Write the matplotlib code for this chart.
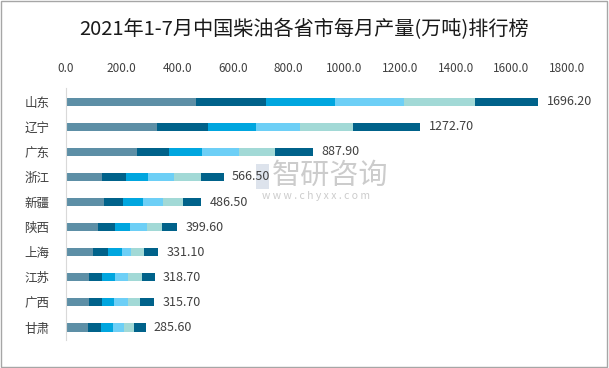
import matplotlib
matplotlib.use("Agg")
import matplotlib.pyplot as plt
from matplotlib.patches import Rectangle
import numpy as np

plt.rcParams['font.family'] = ['Noto Sans CJK SC', 'DejaVu Sans']

provinces = ["山东", "辽宁", "广东", "浙江", "新疆", "陕西", "上海", "江苏", "广西", "甘肃"]
series_names = ["1-2月", "3月", "4月", "5月", "6月", "7月"]
m12 = [467.0, 326.9, 254.9, 128.9, 137.4, 115.7, 97.6, 83.1, 83.1, 79.5]
m3 = [249.9, 184.3, 114.8, 88.0, 68.7, 61.5, 54.2, 47.0, 47.0, 47.0]
m4 = [248.6, 172.9, 119.9, 75.9, 72.3, 54.2, 50.6, 47.0, 43.4, 43.4]
m5 = [248.6, 155.2, 132.5, 94.0, 68.7, 57.8, 32.5, 47.0, 50.6, 39.8]
m6 = [254.9, 190.6, 130.0, 97.6, 72.3, 54.2, 47.0, 50.6, 43.4, 36.2]
m7 = [227.2, 242.8, 135.8, 82.1, 67.1, 56.2, 49.2, 44.0, 48.2, 39.7]
totals = [1696.20, 1272.70, 887.90, 566.50, 486.50, 399.60, 331.10, 318.70, 315.70, 285.60]
xticks = [0, 200, 400, 600, 800, 1000, 1200, 1400, 1600, 1800]

colors = ["#5D8FA6", "#00628A", "#00A6DF", "#6DCFF6", "#A2D9D6", "#00628A"]

fig = plt.figure(figsize=(6.09, 3.68), dpi=100)
fig.patch.set_facecolor("white")
fig.patches.append(Rectangle((0.002, 0.003), 0.995, 0.994, transform=fig.transFigure,
                             fill=False, edgecolor="#A6A6A6", linewidth=1.0, zorder=-2))

# watermark (behind chart)
fig.patches.append(Rectangle((0.420, 0.487), 0.022, 0.068, transform=fig.transFigure,
                             facecolor="#DDE3EC", edgecolor="none", zorder=-1))
fig.text(0.446, 0.522, "智研咨询", fontsize=21, color="#CCCCCC", ha="left", va="center", zorder=-1)
fig.text(0.430, 0.468, "w w w . c h y x x . c o m", fontsize=7.5, color="#CCCCCC",
         ha="left", va="center", zorder=-1)

ax = fig.add_axes([0.1084, 0.076, 0.8226, 0.685])
ax.set_zorder(2)
ax.patch.set_alpha(0)
y = np.arange(len(provinces))
left = np.zeros(len(provinces))
for name, vals, c in zip(series_names, [m12, m3, m4, m5, m6, m7], colors):
    ax.barh(y, vals, left=left, height=0.32, color=c, label=name, linewidth=0)
    left += np.array(vals)

for yi, t in zip(y, totals):
    ax.text(t + 30, yi, f"{t:.2f}", va="center", ha="left", fontsize=9, color="#404040")

ax.set_xlim(0, 1800)
ax.set_ylim(9.5, -0.55)
ax.set_yticks(y)
ax.set_yticklabels(provinces, fontsize=9, color="#404040")
ax.set_xticks(xticks)
ax.set_xticklabels([f"{v:.1f}" for v in xticks], fontsize=8.5, color="#404040")
ax.xaxis.tick_top()
ax.tick_params(axis="both", length=0)
ax.tick_params(axis="x", pad=9)
ax.tick_params(axis="y", pad=12)
for s in ["top", "right", "bottom"]:
    ax.spines[s].set_visible(False)
ax.spines["left"].set_color("#D9D9D9")

fig.text(0.5, 0.92, "2021年1-7月中国柴油各省市每月产量(万吨)排行榜", ha="center", va="center",
         fontsize=14.5, color="#1A1A1A", fontweight="medium")

fig.savefig("out.png", dpi=100, facecolor="white")
